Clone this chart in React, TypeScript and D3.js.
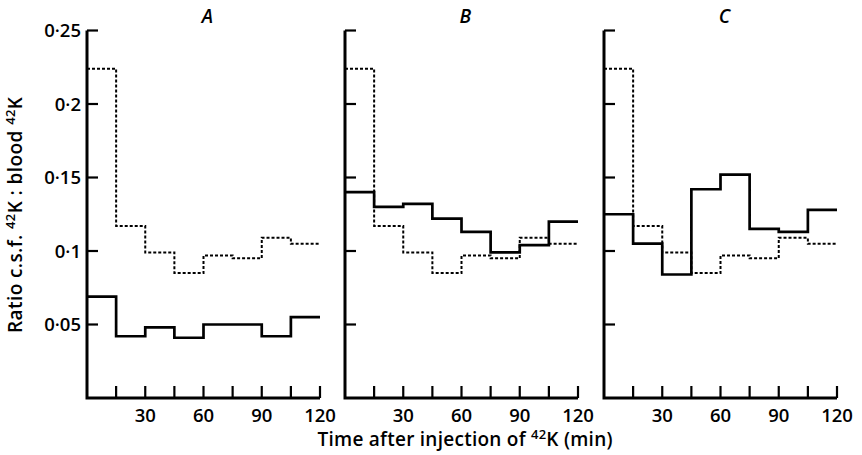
import React from "react";
import * as d3 from "d3";

const panelLabels = ["A", "B", "C"];
const intervalStarts = [0, 15, 30, 45, 60, 75, 90, 105];
const controlDotted = [0.224, 0.117, 0.099, 0.085, 0.097, 0.095, 0.109, 0.105];
const solidA = [0.069, 0.042, 0.048, 0.041, 0.05, 0.05, 0.042, 0.055];
const solidB = [0.14, 0.13, 0.132, 0.122, 0.113, 0.099, 0.104, 0.12];
const solidC = [0.125, 0.105, 0.084, 0.142, 0.152, 0.115, 0.113, 0.128];
const solidSeries = [solidA, solidB, solidC];
const yTicks = [0.05, 0.1, 0.15, 0.2, 0.25];
const yTickLabels = ["0·05", "0·1", "0·15", "0·2", "0·25"];
const xTicks = [15, 30, 45, 60, 75, 90, 105, 120];
const xTickLabels = [30, 60, 90, 120];

const W = 862;
const H = 455;
const panelLeft = [87, 345, 604];
const panelWidth = 233;
const yBottom = 398;
const yTop = 30.5;
const FONT = "'Open Sans', 'DejaVu Sans', sans-serif";
const TW = 600;

function stepPath(values: number[], x: d3.ScaleLinear<number, number>, y: d3.ScaleLinear<number, number>) {
  const pts: [number, number][] = intervalStarts.map((t, i) => [t, values[i]]);
  pts.push([120, values[values.length - 1]]);
  const line = d3
    .line<[number, number]>()
    .x((d) => x(d[0]))
    .y((d) => y(d[1]))
    .curve(d3.curveStepAfter);
  return line(pts) || "";
}

function Panel({ idx }: { idx: number }) {
  const x0 = panelLeft[idx];
  const x = d3.scaleLinear().domain([0, 120]).range([x0, x0 + panelWidth]);
  const y = d3.scaleLinear().domain([0, 0.25]).range([yBottom, yTop]);
  return (
    <g>
      <text
        x={x(62)}
        y={23}
        textAnchor="middle"
        fontFamily={FONT}
        fontStyle="italic"
        fontWeight={600}
        fontSize={19}
      >
        {panelLabels[idx]}
      </text>
      <path
        d={`M${x(0)},${y(0.25)} L${x(0)},${y(0)} L${x(120)},${y(0)}`}
        fill="none"
        stroke="#000"
        strokeWidth={3}
        strokeLinejoin="miter"
      />
      {yTicks.map((t) => (
        <line key={t} x1={x(0)} x2={x(0) + 11} y1={y(t)} y2={y(t)} stroke="#000" strokeWidth={2.2} />
      ))}
      {xTicks.map((t) => (
        <line key={t} x1={x(t)} x2={x(t)} y1={y(0)} y2={y(0) - 12} stroke="#000" strokeWidth={2.2} />
      ))}
      {idx === 0 &&
        yTicks.map((t, i) => (
          <text
            key={t}
            x={x(0) - 6}
            y={y(t) + 6.5}
            textAnchor="end"
            fontFamily={FONT}
            fontWeight={TW}
            fontSize={18.5}
          >
            {yTickLabels[i]}
          </text>
        ))}
      {xTickLabels.map((t) => (
        <text
          key={t}
          x={x(t)}
          y={422}
          textAnchor="middle"
          fontFamily={FONT}
          fontWeight={TW}
          fontSize={18.5}
        >
          {t}
        </text>
      ))}
      <path
        d={stepPath(controlDotted, x, y)}
        fill="none"
        stroke="#000"
        strokeWidth={2}
        strokeDasharray="3,2"
      />
      <path d={stepPath(solidSeries[idx], x, y)} fill="none" stroke="#000" strokeWidth={2.7} />
    </g>
  );
}

export default function App() {
  return (
    <svg
      width={W}
      height={H}
      style={{ position: "absolute", left: 0, top: 0, background: "#fff" }}
    >
      <rect width={W} height={H} fill="#fff" />
      {[0, 1, 2].map((i) => (
        <Panel key={i} idx={i} />
      ))}
      <text
        x={465}
        y={446}
        textAnchor="middle"
        fontFamily={FONT}
        fontWeight={TW}
        fontSize={19}
        textLength={295}
        lengthAdjust="spacing"
      >
        Time after injection of <tspan dy={-7} fontSize={13}>42</tspan>
        <tspan dy={7}>K (min)</tspan>
      </text>
      <text
        transform={`translate(22,215) rotate(-90)`}
        textAnchor="middle"
        fontFamily={FONT}
        fontWeight={TW}
        fontSize={19}
        textLength={236}
        lengthAdjust="spacing"
      >
        Ratio c.s.f. <tspan dy={-7} fontSize={13}>42</tspan>
        <tspan dy={7}>K : blood </tspan>
        <tspan dy={-7} fontSize={13}>42</tspan>
        <tspan dy={7}>K</tspan>
      </text>
    </svg>
  );
}
